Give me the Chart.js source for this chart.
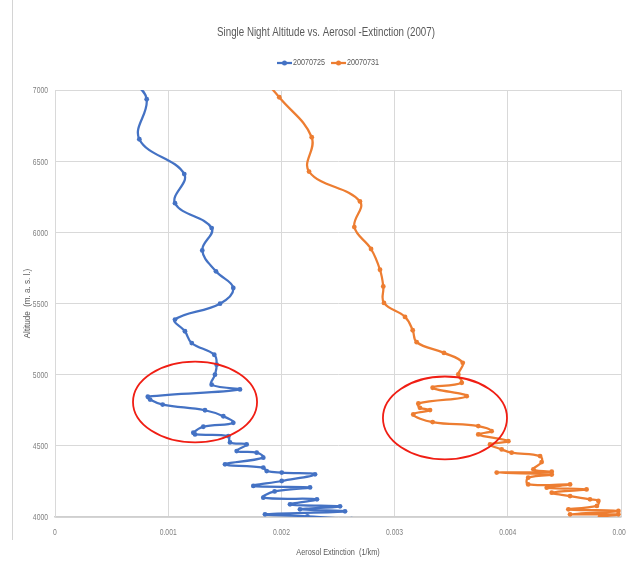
<!DOCTYPE html>
<html>
<head>
<meta charset="utf-8">
<title>Single Night Altitude vs. Aerosol -Extinction (2007)</title>
<script src="https://cdn.jsdelivr.net/npm/chart.js@4/dist/chart.umd.min.js"></script>
<style>
  html, body { margin: 0; padding: 0; background: #ffffff; }
  #wrap { width: 626px; height: 569px; position: relative; }
</style>
</head>
<body>
<div id="wrap"><canvas id="chart" width="626" height="569"></canvas></div>
<script>
// Chart texts
const chartTitle = 'Single Night Altitude vs. Aerosol -Extinction (2007)';
const xAxisTitle = 'Aerosol Extinction  (1/km)';
const yAxisTitle = 'Altitude  (m. a. s. l.)';
const seriesNames = ['20070725', '20070731'];

// 20070725 profile: extinction (1/km) and altitude (m a.s.l.)
const blueExt = [0.00068, 0.00081, 0.000745, 0.001142, 0.00106, 0.001384, 0.001301, 0.001422, 0.001575, 0.001458,
  0.00106, 0.001148, 0.001208, 0.001407, 0.001428, 0.001413, 0.001384, 0.001634, 0.00082, 0.00084,
  0.000951, 0.001325, 0.001487, 0.001575, 0.00131, 0.001222, 0.001237, 0.001531, 0.001546, 0.001693,
  0.001605, 0.001782, 0.00184, 0.001502, 0.00184, 0.00187, 0.002003, 0.002297, 0.002003, 0.001752,
  0.002253, 0.00194, 0.00184, 0.002314, 0.002076, 0.002518, 0.002164, 0.002562, 0.001855, 0.00223, 0.00262];
const blueAlt = [7070, 6935, 6654, 6409, 6205, 6030, 5873, 5726, 5609, 5499,
  5387, 5305, 5222, 5140, 5070, 5000, 4930, 4896, 4845, 4825,
  4790, 4750, 4708, 4662, 4634, 4592, 4580, 4568, 4524, 4510,
  4463, 4452, 4417, 4370, 4347, 4323, 4312, 4300, 4253, 4218,
  4208, 4180, 4136, 4124, 4089, 4075, 4054, 4040, 4019, 4005, 3985];

// 20070731 profile
const orangeExt = [0.00186, 0.001981, 0.002268, 0.002244, 0.002694, 0.002644, 0.002792, 0.002871, 0.0029, 0.002906,
  0.003092, 0.00316, 0.003195, 0.003436, 0.003602, 0.003563, 0.003593, 0.003336, 0.003637, 0.00321,
  0.003224, 0.003313, 0.003165, 0.003336, 0.003739, 0.003857, 0.003739, 0.004005, 0.003843, 0.003946,
  0.004034, 0.004285, 0.004299, 0.004226, 0.004388, 0.003902, 0.004388, 0.00418, 0.00418, 0.00455,
  0.004344, 0.004696, 0.004388, 0.00455, 0.004726, 0.0048, 0.004787, 0.004535, 0.004977, 0.00455,
  0.004977, 0.004815];
const orangeAlt = [7060, 6949, 6668, 6427, 6217, 6037, 5883, 5737, 5620, 5504,
  5406, 5312, 5228, 5153, 5083, 5001, 4943, 4908, 4849, 4798,
  4767, 4751, 4720, 4667, 4639, 4603, 4580, 4533, 4510, 4475,
  4452, 4428, 4386, 4335, 4318, 4312, 4298, 4276, 4229, 4229,
  4206, 4194, 4171, 4147, 4124, 4113, 4078, 4054, 4043, 4019,
  4019, 4003];

// Axis ticks
const xTickValues = [0, 0.001, 0.002, 0.003, 0.004, 0.005];
const xTickLabels = ['0', '0.001', '0.002', '0.003', '0.004', '0.005'];
const yTickValues = [4000, 4500, 5000, 5500, 6000, 6500, 7000];
const yTickLabels = ['4000', '4500', '5000', '5500', '6000', '6500', '7000'];

// Highlighted regions (centre extinction, centre altitude, half-width, half-height)
const highlightCx = [0.001237, 0.003445];
const highlightCy = [4808, 4696];
const highlightRx = [0.000548, 0.000548];
const highlightRy = [284, 291];

const BLUE = '#4472C4';
const ORANGE = '#ED7D31';
const TEXT = '#595959';
const TICK = '#808080';
const FAMILY = '"Liberation Sans", Arial, sans-serif';

function toPoints(xs, ys) {
  return xs.map((x, i) => ({ x: x, y: ys[i] }));
}

// Draws a narrow (horizontally condensed) text run
function narrowText(ctx, text, x, y, opts) {
  const o = Object.assign({ size: 9, color: TEXT, align: 'center', sx: 0.8, rotate: false }, opts);
  ctx.save();
  ctx.translate(x, y);
  if (o.rotate) ctx.rotate(-Math.PI / 2);
  ctx.scale(o.sx, 1);
  ctx.font = o.size + 'px ' + FAMILY;
  ctx.fillStyle = o.color;
  ctx.textAlign = o.align;
  ctx.textBaseline = 'middle';
  ctx.fillText(text, 0, 0);
  const w = ctx.measureText(text).width * o.sx;
  ctx.restore();
  return w;
}

// White background and the thin frame line on the left of the chart object
const framePlugin = {
  id: 'frame',
  beforeDraw(chart) {
    const ctx = chart.ctx;
    ctx.save();
    ctx.fillStyle = '#ffffff';
    ctx.fillRect(0, 0, chart.width, chart.height);
    ctx.strokeStyle = '#d4d4d4';
    ctx.lineWidth = 1;
    ctx.beginPath();
    ctx.moveTo(12.5, 0);
    ctx.lineTo(12.5, 540);
    ctx.stroke();
    ctx.restore();
  }
};

// Title, legend, tick labels and axis titles
const textPlugin = {
  id: 'texts',
  afterDraw(chart) {
    const ctx = chart.ctx;
    const xs = chart.scales.x, ys = chart.scales.y;
    const area = chart.chartArea;

    narrowText(ctx, chartTitle, (area.left + area.right) / 2 - 12, 32, { size: 13, sx: 0.75 });

    // legend
    let lx = 277;
    const ly = 63;
    chart.data.datasets.forEach((ds) => {
      ctx.save();
      ctx.strokeStyle = ds.borderColor;
      ctx.lineWidth = 2.25;
      ctx.beginPath();
      ctx.moveTo(lx, ly);
      ctx.lineTo(lx + 15, ly);
      ctx.stroke();
      ctx.fillStyle = ds.borderColor;
      ctx.beginPath();
      ctx.arc(lx + 7.5, ly, 2.5, 0, Math.PI * 2);
      ctx.fill();
      ctx.restore();
      const w = narrowText(ctx, ds.label, lx + 16, ly, { size: 9, align: 'left', sx: 0.8 });
      lx += 16 + w + 6;
    });

    xTickValues.forEach((v, i) => {
      narrowText(ctx, xTickLabels[i], xs.getPixelForValue(v), 533, { size: 8.5, color: TICK, sx: 0.8 });
    });
    yTickValues.forEach((v, i) => {
      narrowText(ctx, yTickLabels[i], area.left - 7, ys.getPixelForValue(v) + 1, { size: 8.5, color: TICK, align: 'right', sx: 0.8 });
    });

    narrowText(ctx, xAxisTitle, (area.left + area.right) / 2, 552, { size: 9.5, sx: 0.77 });
    narrowText(ctx, yAxisTitle, 27, (area.top + area.bottom) / 2, { size: 9.5, sx: 0.85, rotate: true });
  }
};

// Red ellipses drawn in data coordinates
const highlightPlugin = {
  id: 'highlights',
  afterDatasetsDraw(chart) {
    const ctx = chart.ctx;
    const xs = chart.scales.x, ys = chart.scales.y;
    ctx.save();
    ctx.strokeStyle = '#F01E14';
    ctx.lineWidth = 1.8;
    highlightCx.forEach((cx, i) => {
      const px = xs.getPixelForValue(cx);
      const py = ys.getPixelForValue(highlightCy[i]);
      const rx = Math.abs(xs.getPixelForValue(cx + highlightRx[i]) - px);
      const ry = Math.abs(ys.getPixelForValue(highlightCy[i] + highlightRy[i]) - py);
      ctx.beginPath();
      ctx.ellipse(px, py, rx, ry, 0, 0, Math.PI * 2);
      ctx.stroke();
    });
    ctx.restore();
  }
};

const ds = (label, color, xs, ys) => ({
  label: label,
  data: toPoints(xs, ys),
  showLine: true,
  borderColor: color,
  backgroundColor: color,
  borderWidth: 2.25,
  pointRadius: 2.4,
  pointHoverRadius: 2.4,
  pointBorderWidth: 0,
  tension: 0.4
});

new Chart(document.getElementById('chart'), {
  type: 'scatter',
  data: {
    datasets: [
      ds(seriesNames[0], BLUE, blueExt, blueAlt),
      ds(seriesNames[1], ORANGE, orangeExt, orangeAlt)
    ]
  },
  options: {
    responsive: false,
    animation: false,
    events: [],
    layout: { padding: { left: 0, right: 5, top: 90, bottom: 0 } },
    plugins: {
      legend: { display: false },
      tooltip: { enabled: false },
      title: { display: false }
    },
    scales: {
      x: {
        type: 'linear',
        min: 0,
        max: 0.005,
        afterBuildTicks(scale) { scale.ticks = xTickValues.map(v => ({ value: v })); },
        afterFit(scale) { scale.height = 52; scale.paddingRight = 0; scale.paddingLeft = 0; },
        ticks: { display: false },
        grid: { color: '#d9d9d9', lineWidth: 1, drawTicks: false },
        border: { color: '#cfcfcf', width: 1.5 }
      },
      y: {
        type: 'linear',
        min: 4000,
        max: 7000,
        afterBuildTicks(scale) { scale.ticks = yTickValues.map(v => ({ value: v })); },
        afterFit(scale) { scale.width = 55; scale.paddingTop = 0; scale.paddingBottom = 0; },
        ticks: { display: false },
        grid: { color: '#d9d9d9', lineWidth: 1, drawTicks: false },
        border: { color: '#d9d9d9', width: 1 }
      }
    }
  },
  plugins: [framePlugin, textPlugin, highlightPlugin]
});
</script>
</body>
</html>
